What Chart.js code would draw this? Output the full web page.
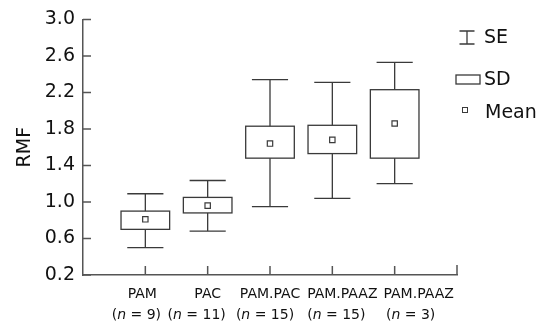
<!DOCTYPE html>
<html>
<head>
<meta charset="utf-8">
<script src="https://cdn.jsdelivr.net/npm/chart.js@4"></script>
<style>
  html, body { margin: 0; padding: 0; background: #fff; }
  #wrap { width: 544px; height: 324px; }
</style>
</head>
<body>
<div id="wrap"><canvas id="rmfChart"></canvas></div>
<script>
// groups and their sizes
const groups = ['PAM', 'PAC', 'PAM.PAC', 'PAM.PAAZ', 'PAM.PAAZ'];
const groupN = [9, 11, 15, 15, 3];

// values (RMF)
const seHigh = [1.09, 1.235, 2.34, 2.31, 2.53];
const sdHigh = [0.90, 1.05, 1.83, 1.84, 2.23];
const means  = [0.81, 0.96, 1.64, 1.68, 1.86];
const sdLow  = [0.70, 0.88, 1.48, 1.53, 1.48];
const seLow  = [0.50, 0.68, 0.95, 1.04, 1.20];

const yTicks = [0.2, 0.6, 1.0, 1.4, 1.8, 2.2, 2.6, 3.0];

const FONT = "'DejaVu Sans', Verdana, sans-serif";
const LINE = '#3a3a3a';
const AXIS = '#555';

// the original spreads the long labels sideways so they don't collide (px from tick)
const nameShift = [-3, 0, 0, 10, 24];
const nShift = [-9, -11, -5, 4, 16];

// whiskers + SD boxes, drawn under the mean markers
const boxPlugin = {
  id: 'boxPlugin',
  beforeDatasetsDraw(chart) {
    const {ctx, scales: {x, y}} = chart;
    ctx.save();
    ctx.strokeStyle = LINE;
    ctx.lineWidth = 1.3;
    groups.forEach((g, i) => {
      const cx = x.getPixelForValue(i + 1);
      const capL = x.getPixelForValue(i + 1 - 0.29);
      const capR = x.getPixelForValue(i + 1 + 0.29);
      const boxL = x.getPixelForValue(i + 1 - 0.39);
      const boxR = x.getPixelForValue(i + 1 + 0.39);
      const yHi = y.getPixelForValue(seHigh[i]);
      const yLo = y.getPixelForValue(seLow[i]);
      const bTop = y.getPixelForValue(sdHigh[i]);
      const bBot = y.getPixelForValue(sdLow[i]);

      ctx.beginPath();
      ctx.moveTo(cx, yHi); ctx.lineTo(cx, yLo);
      ctx.moveTo(capL, yHi); ctx.lineTo(capR, yHi);
      ctx.moveTo(capL, yLo); ctx.lineTo(capR, yLo);
      ctx.stroke();

      ctx.fillStyle = '#fff';
      ctx.fillRect(boxL, bTop, boxR - boxL, bBot - bTop);
      ctx.strokeRect(boxL, bTop, boxR - boxL, bBot - bTop);
    });
    ctx.restore();
  },
  afterDraw(chart) {
    const {ctx, scales: {x, y}, chartArea} = chart;
    ctx.save();

    // inward tick marks
    ctx.strokeStyle = AXIS;
    ctx.lineWidth = 1.5;
    ctx.beginPath();
    yTicks.forEach(v => {
      const py = y.getPixelForValue(v);
      ctx.moveTo(chartArea.left, py);
      ctx.lineTo(chartArea.left + 8, py);
    });
    for (let i = 1; i <= 5; i++) {
      const px = x.getPixelForValue(i);
      ctx.moveTo(px, chartArea.bottom);
      ctx.lineTo(px, chartArea.bottom - 9);
    }
    const endX = x.getPixelForValue(6);
    ctx.moveTo(endX, chartArea.bottom);
    ctx.lineTo(endX, chartArea.bottom - 10);
    ctx.stroke();

    // category labels, two lines with italic n
    ctx.fillStyle = '#111';
    ctx.textBaseline = 'alphabetic';
    groups.forEach((g, i) => {
      const cx = x.getPixelForValue(i + 1);
      ctx.font = '14px ' + FONT;
      ctx.textAlign = 'center';
      ctx.fillText(g, cx + nameShift[i], chartArea.bottom + 23);

      const open = '(';
      const rest = ' = ' + groupN[i] + ')';
      const wOpen = ctx.measureText(open).width;
      const wRest = ctx.measureText(rest).width;
      ctx.font = 'italic 14px ' + FONT;
      const wN = ctx.measureText('n').width;
      let sx = cx + nShift[i] - (wOpen + wN + wRest) / 2;
      const by = chartArea.bottom + 44;
      ctx.textAlign = 'left';
      ctx.font = '14px ' + FONT;
      ctx.fillText(open, sx, by);
      sx += wOpen;
      ctx.font = 'italic 14px ' + FONT;
      ctx.fillText('n', sx, by);
      sx += wN;
      ctx.font = '14px ' + FONT;
      ctx.fillText(rest, sx, by);
    });

    // legend
    const lx = 467;
    ctx.strokeStyle = LINE;
    ctx.lineWidth = 1.3;
    ctx.beginPath();
    ctx.moveTo(lx - 7.5, 31); ctx.lineTo(lx + 7.5, 31);
    ctx.moveTo(lx, 31); ctx.lineTo(lx, 44);
    ctx.moveTo(lx - 7.5, 44); ctx.lineTo(lx + 7.5, 44);
    ctx.stroke();
    ctx.strokeRect(456, 75, 24, 9);
    ctx.lineWidth = 1;
    ctx.fillStyle = '#fff';
    ctx.fillRect(462.5, 107.5, 5, 5);
    ctx.strokeRect(462.5, 107.5, 5, 5);

    ctx.fillStyle = '#111';
    ctx.font = '19px ' + FONT;
    ctx.textAlign = 'left';
    ctx.textBaseline = 'middle';
    ctx.fillText('SE', 484, 38);
    ctx.fillText('SD', 484, 80);
    ctx.fillText('Mean', 485, 113);
    ctx.restore();
  }
};

const ctx = document.querySelector('#rmfChart').getContext('2d');
new Chart(ctx, {
  type: 'scatter',
  data: {
    datasets: [{
      label: 'Mean',
      data: means.map((m, i) => ({x: i + 1, y: m})),
      pointStyle: 'rect',
      pointRadius: 3.8,
      pointHoverRadius: 3.8,
      pointBackgroundColor: '#fff',
      pointBorderColor: LINE,
      pointBorderWidth: 1.2
    }]
  },
  options: {
    responsive: true,
    maintainAspectRatio: false,
    animation: false,
    layout: { padding: { left: 0, top: 18, right: 87, bottom: 0 } },
    plugins: {
      legend: { display: false },
      tooltip: { enabled: false }
    },
    scales: {
      x: {
        type: 'linear',
        min: 0,
        max: 6,
        grid: { display: false, drawTicks: false },
        border: { display: true, color: AXIS, width: 1.5 },
        ticks: { display: false },
        afterFit(scale) { scale.height = 49; }
      },
      y: {
        min: 0.2,
        max: 3.0,
        grid: { display: false, drawTicks: false },
        border: { display: true, color: AXIS, width: 1.5 },
        afterBuildTicks(scale) { scale.ticks = yTicks.map(v => ({value: v})); },
        ticks: {
          color: '#111',
          padding: 8,
          font: { family: FONT, size: 19 },
          callback: v => v.toFixed(1)
        },
        title: {
          display: true,
          text: 'RMF',
          color: '#111',
          font: { family: FONT, size: 19 },
          padding: { top: 14, bottom: 0 }
        },
        afterFit(scale) { scale.width = 83; }
      }
    }
  },
  plugins: [boxPlugin]
});
</script>
</body>
</html>
